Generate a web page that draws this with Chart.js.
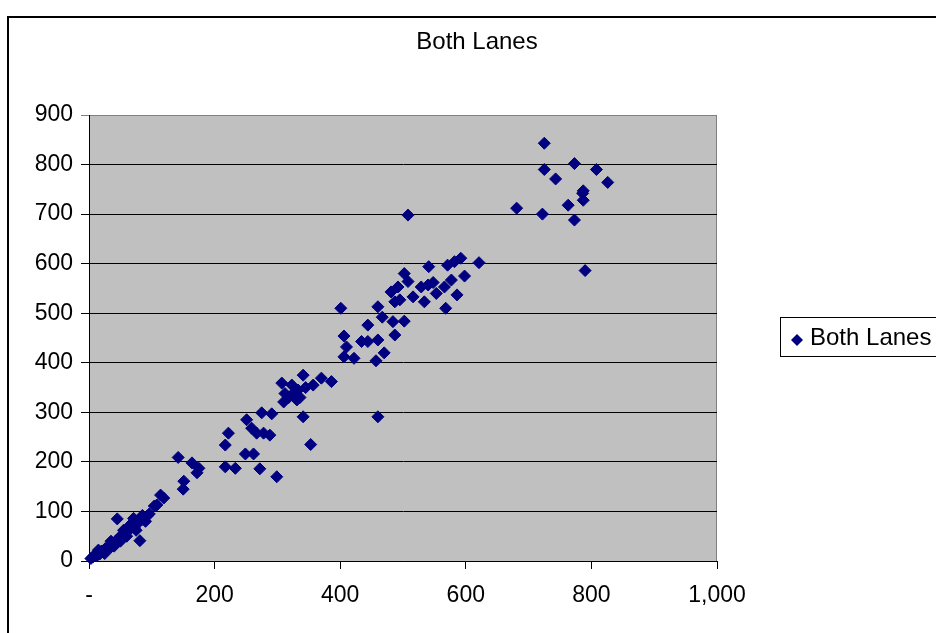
<!DOCTYPE html>
<html>
<head>
<meta charset="utf-8">
<script src="https://cdn.jsdelivr.net/npm/chart.js@4/dist/chart.umd.min.js"></script>
<style>
html, body { margin: 0; padding: 0; background: #fff; }
#wrap { position: relative; width: 936px; height: 633px; }
</style>
</head>
<body>
<div id="wrap"><canvas id="chart" width="936" height="633"></canvas></div>
<script>
const seriesName = 'Both Lanes';
const chartTitle = 'Both Lanes';

// lane totals
const xValues = [
    3, 6, 9, 12, 14, 17, 20, 23, 26, 29, 32, 35, 38, 41, 44, 47, 50, 53, 56, 60,
    63, 66, 69, 72, 75, 78, 81, 85, 88, 92, 96, 45, 81, 108, 15, 25, 35, 40, 55, 60,
    70, 75, 85, 90, 65, 50, 71, 104, 114, 119, 142, 150, 151, 164, 172, 175,
    217, 217, 222, 233, 249, 251, 259, 262, 267, 272, 275, 278, 288, 291, 299,
    307, 310, 312, 318, 323, 325, 331, 333, 336, 341, 341, 345, 353, 357, 370, 386,
    401, 406, 406, 410, 422, 434, 444, 444, 457, 460, 460, 460, 467, 470, 481, 484, 487, 487, 492, 495,
    502, 502, 508, 508, 516, 529, 534, 540, 541, 548, 553, 566, 568, 571, 577, 582, 586, 592, 598, 621,
    681, 722, 725, 725, 743, 763, 773, 773, 786, 787, 787, 790, 808, 826
];
const yValues = [
    5, 8, 12, 10, 16, 14, 20, 18, 25, 24, 30, 28, 35, 38, 42, 45, 50, 48, 55, 58,
    62, 65, 70, 68, 75, 78, 80, 84, 86, 90, 95, 85, 41, 113, 22, 15, 40, 30, 62, 50,
    78, 62, 92, 80, 72, 40, 86, 111, 133, 127, 209, 145, 161, 198, 178, 187,
    234, 190, 258, 187, 216, 285, 268, 216, 258, 186, 299, 258, 254, 297, 170,
    359, 321, 338, 330, 355, 338, 325, 345, 330, 375, 291, 350, 235, 355, 369, 362,
    510, 412, 454, 432, 409, 443, 443, 476, 404, 446, 291, 513, 492, 420, 543, 483, 456, 523, 553, 527,
    484, 580, 564, 698, 533, 553, 523, 557, 594, 562, 540, 553, 510, 597, 567, 604, 537, 611, 575, 602,
    712, 700, 843, 790, 771, 718, 802, 688, 742, 747, 728, 586, 790, 764
];

const xMin = 0, xMax = 1000, xStep = 200;
const yMin = 0, yMax = 900, yStep = 100;

const fontFamily = '"Liberation Sans", Arial, sans-serif';
const markerColor = '#000080';

const points = xValues.map((x, i) => ({x: x, y: yValues[i]}));

function formatX(value) {
    if (value === 0) return '-';
    return value.toLocaleString('en-US');
}

const backgroundPlugin = {
    id: 'plotBackground',
    beforeDraw(chart) {
        const {ctx, chartArea} = chart;
        ctx.save();
        ctx.fillStyle = '#c0c0c0';
        ctx.fillRect(chartArea.left, chartArea.top, chartArea.right - chartArea.left, chartArea.bottom - chartArea.top);
        ctx.strokeStyle = '#808080';
        ctx.lineWidth = 1;
        ctx.beginPath();
        ctx.moveTo(chartArea.left, chartArea.top + 0.5);
        ctx.lineTo(chartArea.right - 0.5, chartArea.top + 0.5);
        ctx.lineTo(chartArea.right - 0.5, chartArea.bottom);
        ctx.stroke();
        ctx.restore();
    }
};

const decorPlugin = {
    id: 'decor',
    afterDraw(chart) {
        const ctx = chart.ctx;
        ctx.save();
        // outer frame
        ctx.strokeStyle = '#000';
        ctx.lineWidth = 2;
        ctx.strokeRect(8, 17, 940, 630);

        // title
        ctx.fillStyle = '#000';
        ctx.font = '24px ' + fontFamily;
        ctx.textAlign = 'center';
        ctx.textBaseline = 'middle';
        ctx.fillText(chartTitle, 477, 42);

        // legend
        ctx.lineWidth = 1;
        ctx.strokeRect(780.5, 317.5, 170, 39);
        ctx.fillStyle = markerColor;
        ctx.beginPath();
        ctx.moveTo(797, 334);
        ctx.lineTo(803, 340);
        ctx.lineTo(797, 346);
        ctx.lineTo(791, 340);
        ctx.closePath();
        ctx.fill();
        ctx.fillStyle = '#000';
        ctx.textAlign = 'left';
        ctx.fillText(seriesName, 810, 338);
        ctx.restore();
    }
};

new Chart(document.getElementById('chart').getContext('2d'), {
    type: 'scatter',
    data: {
        datasets: [{
            label: seriesName,
            data: points,
            pointStyle: 'rectRot',
            pointRadius: 6,
            pointHoverRadius: 6,
            backgroundColor: markerColor,
            borderColor: markerColor,
            borderWidth: 1,
            clip: false
        }]
    },
    options: {
        responsive: false,
        animation: false,
        events: [],
        layout: {
            padding: {top: 115, left: 0, right: 219, bottom: 0}
        },
        plugins: {
            legend: {display: false},
            title: {display: false},
            tooltip: {enabled: false}
        },
        scales: {
            x: {
                type: 'linear',
                min: xMin,
                max: xMax,
                afterFit: scale => { scale.height = 72; },
                border: {color: '#000', width: 1},
                grid: {
                    drawOnChartArea: false,
                    drawTicks: true,
                    tickLength: 8,
                    color: '#000'
                },
                ticks: {
                    stepSize: xStep,
                    padding: 13,
                    color: '#000',
                    maxRotation: 0,
                    font: {family: fontFamily, size: 23},
                    callback: value => formatX(value)
                }
            },
            y: {
                type: 'linear',
                min: yMin,
                max: yMax,
                afterFit: scale => { scale.width = 89; },
                border: {color: '#000', width: 1},
                grid: {
                    tickLength: 8,
                    color: ctx => (ctx.tick && ctx.tick.value === yMax) ? '#808080' : '#000'
                },
                ticks: {
                    stepSize: yStep,
                    padding: 8,
                    color: '#000',
                    font: {family: fontFamily, size: 23}
                }
            }
        }
    },
    plugins: [backgroundPlugin, decorPlugin]
});
</script>
</body>
</html>
